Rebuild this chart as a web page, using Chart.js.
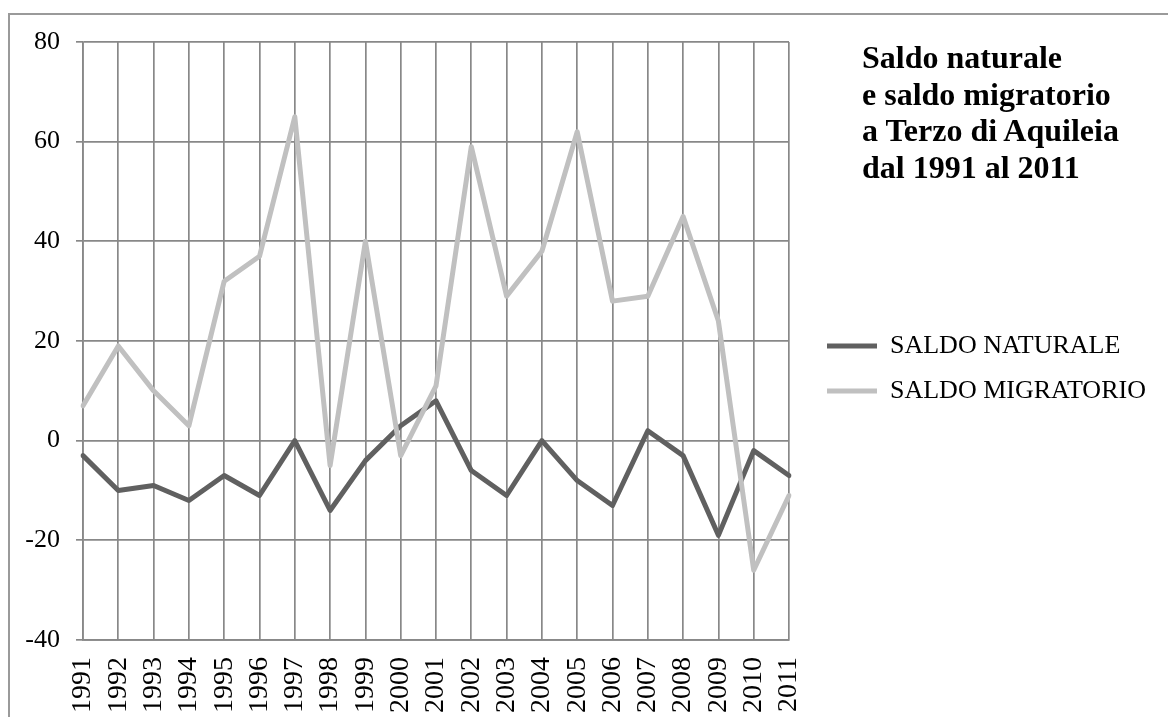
<!DOCTYPE html>
<html>
<head>
  <meta charset="utf-8"/>
  <title>Saldo naturale e saldo migratorio a Terzo di Aquileia</title>
  <script src="https://cdn.jsdelivr.net/npm/chart.js"></script>
  <style>
    html, body {
      margin: 0;
      padding: 0;
      background: #fff;
      overflow: hidden;
    }
    .frame {
      position: absolute;
      left: 8px;
      top: 13px;
      width: 1300px;
      height: 1000px;
      border-left: 2px solid #9a9a9a;
      border-top: 2px solid #9a9a9a;
    }
    .chart-container {
      position: absolute;
      left: 0;
      top: 0;
      width: 1168px;
      height: 717px;
    }
    .chart-title {
      position: absolute;
      left: 862px;
      top: 39px;
      font-family: "Liberation Serif", "Times New Roman", serif;
      font-weight: bold;
      font-size: 32px;
      line-height: 36.7px;
      color: #000;
      white-space: nowrap;
    }
  </style>
</head>
<body>
  <div class="frame"></div>
  <div class="chart-container">
    <canvas id="saldoChart"></canvas>
  </div>
  <div class="chart-title">Saldo naturale<br>e saldo migratorio<br>a Terzo di Aquileia<br>dal 1991 al 2011</div>

  <script>
    const anni = ['1991','1992','1993','1994','1995','1996','1997','1998','1999','2000',
                  '2001','2002','2003','2004','2005','2006','2007','2008','2009','2010','2011'];
    const saldoNaturale = [-3, -10, -9, -12, -7, -11, 0, -14, -4, 3,
                           8, -6, -11, 0, -8, -13, 2, -3, -19, -2, -7];
    const saldoMigratorio = [7, 19, 10, 3, 32, 37, 65, -5, 40, -3,
                             11, 59, 29, 38, 62, 28, 29, 45, 24, -26, -11];
    const serieNomi = ['SALDO NATURALE', 'SALDO MIGRATORIO'];
    const yTicks = [-40, -20, 0, 20, 40, 60, 80];

    const serif = '"Liberation Serif", "Times New Roman", serif';
    const gridColor = '#888888';

    // legend width is needed to keep the plot right edge where it belongs
    const legendFontSize = 26;
    const legendPad = 19;
    const legendLine = 50;
    const mctx = document.createElement('canvas').getContext('2d');
    mctx.font = legendFontSize + 'px ' + serif;
    const textW = Math.max(...serieNomi.map(t => mctx.measureText(t).width));
    const legendW = legendPad + legendLine + legendFontSize / 2 + textW + 10;
    const spacerW = 19;
    const padRight = Math.max(0, 1168 - 789 - spacerW - legendW);

    window.addEventListener('DOMContentLoaded', () => {
      const ctx = document.getElementById('saldoChart').getContext('2d');
      new Chart(ctx, {
        type: 'line',
        data: {
          labels: anni,
          datasets: [
            {
              label: serieNomi[0],
              data: saldoNaturale,
              borderColor: '#606060',
              backgroundColor: '#606060',
              borderWidth: 5,
              borderCapStyle: 'round',
              pointRadius: 0,
              tension: 0,
              borderJoinStyle: 'round',
              order: 1
            },
            {
              label: serieNomi[1],
              data: saldoMigratorio,
              borderColor: '#c0c0c0',
              backgroundColor: '#c0c0c0',
              borderWidth: 5,
              borderCapStyle: 'round',
              pointRadius: 0,
              tension: 0,
              borderJoinStyle: 'round',
              order: 0
            }
          ]
        },
        options: {
          responsive: true,
          maintainAspectRatio: false,
          animation: false,
          layout: {
            padding: { left: 0, top: 42, right: padRight, bottom: 0 }
          },
          plugins: {
            tooltip: { enabled: false },
            legend: {
              position: 'right',
              align: 'start',
              maxWidth: Math.ceil(legendW) + 2,
              title: {
                display: true,
                text: '',
                font: { size: 10, lineHeight: 1 },
                padding: { top: 262, bottom: 0 }
              },
              labels: {
                usePointStyle: true,
                pointStyle: 'line',
                pointStyleWidth: legendLine,
                padding: legendPad,
                color: '#000',
                font: { family: serif, size: legendFontSize },
                sort: (a, b) => a.datasetIndex - b.datasetIndex
              }
            }
          },
          scales: {
            x: {
              offset: false,
              grid: {
                color: gridColor,
                lineWidth: 1.7,
                drawTicks: false
              },
              border: { color: gridColor, width: 1.7 },
              ticks: {
                color: '#000',
                font: { family: serif, size: 28 },
                minRotation: 90,
                maxRotation: 90,
                padding: 17,
                autoSkip: false
              },
              afterFit: (scale) => { scale.height = 77; }
            },
            y: {
              min: yTicks[0],
              max: yTicks[yTicks.length - 1],
              grid: {
                color: gridColor,
                lineWidth: 1.7,
                tickLength: 7
              },
              border: { color: gridColor, width: 1.7 },
              ticks: {
                stepSize: 20,
                color: '#000',
                font: { family: serif, size: 26 },
                padding: 16
              },
              afterBuildTicks: (scale) => {
                scale.ticks = yTicks.map(v => ({ value: v }));
              },
              afterFit: (scale) => { scale.width = 83; }
            },
            spacer: {
              type: 'linear',
              position: 'right',
              display: true,
              grid: { display: false, drawOnChartArea: false },
              border: { display: false },
              ticks: { display: false },
              afterFit: (scale) => { scale.width = spacerW; }
            }
          }
        }
      });
    });
  </script>
</body>
</html>
